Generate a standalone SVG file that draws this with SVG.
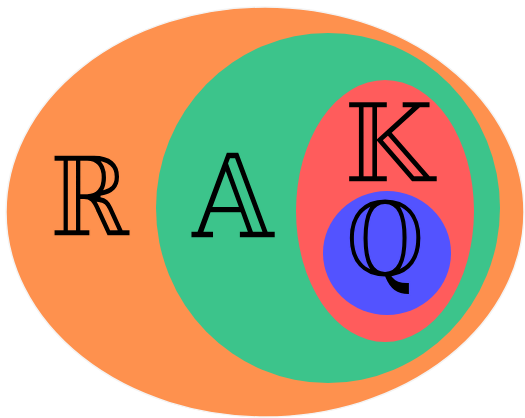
<svg xmlns="http://www.w3.org/2000/svg" width="525" height="418" viewBox="0 0 525 418">
<style>
.lbl{font-family:"DejaVu Serif","DejaVu Sans",serif;font-size:110px;fill:#000;text-anchor:middle;stroke-width:1.6}
</style>
<rect width="525" height="418" fill="#fff"/>
<g id="R"><ellipse cx="265" cy="212" rx="259" ry="205" fill="#FE914E" stroke="#f4f4f4" stroke-width="1.5"/><text class="lbl" transform="translate(89.5,236) scale(0.88,1.01)" stroke="#FE914E">ℝ</text></g>
<g id="A"><ellipse cx="328" cy="208" rx="172" ry="175" fill="#3CC48B"/><text class="lbl" transform="translate(233,238) scale(0.97,1.07)" stroke="#3CC48B">𝔸</text></g>
<g id="K"><ellipse cx="385" cy="211" rx="89" ry="131" fill="#FF5C5C"/><text class="lbl" transform="translate(389,182) scale(0.95,1)" stroke="#FF5C5C">𝕂</text></g>
<g id="Q"><ellipse cx="387" cy="253" rx="64" ry="62" fill="#5353FF"/><text class="lbl" transform="translate(385,276) scale(0.83,0.95)" stroke="#5353FF">ℚ</text></g>
<g id="connectors"/>
</svg>
